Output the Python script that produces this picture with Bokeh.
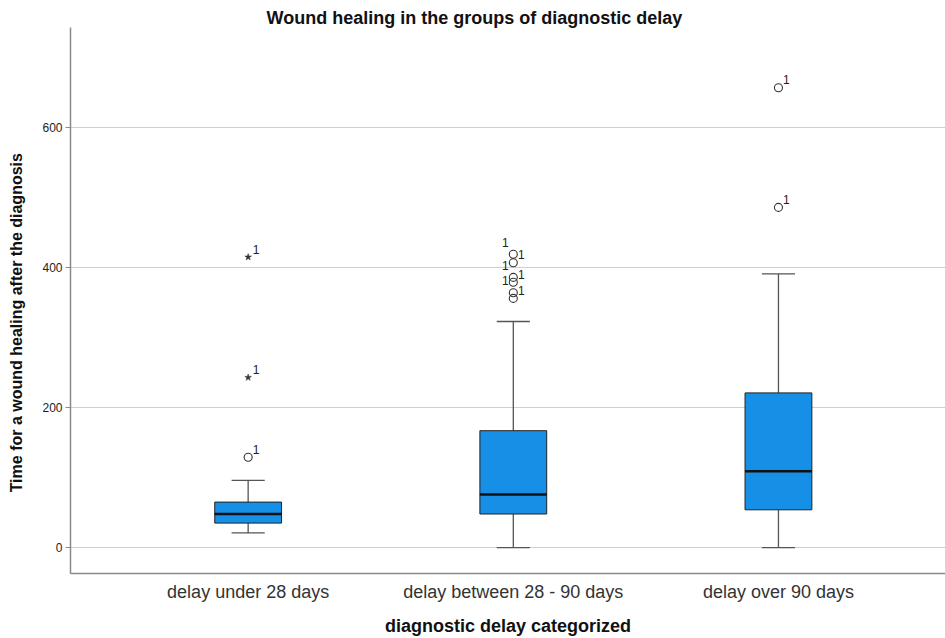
from bokeh.plotting import figure
from bokeh.models import ColumnDataSource, FixedTicker, Title
from bokeh.core.properties import value
from bokeh.embed import file_html
from bokeh.resources import INLINE

# ---- data ----
categories = ["delay under 28 days", "delay between 28 - 90 days", "delay over 90 days"]
group_pos = [1, 2, 3]
q1 = [35, 48, 54]
median = [48, 76, 109]
q3 = [65, 167, 221]
whisker_low = [21, 0, 0]
whisker_high = [96, 323, 391]

circle_group = [1, 2, 2, 2, 2, 2, 2, 3, 3]
circle_value = [129, 419, 407, 386, 379, 364, 356, 486, 657]
circle_label = ["1", "1", "1", "1", "1", "1", "1", "1", "1"]

star_group = [1, 1]
star_value = [243, 415]
star_label = ["1", "1"]

y_ticks = [0, 200, 400, 600]

# ---- styling ----
FONT = "Liberation Sans"
BOX_W = 0.252
CAP_W = 0.125
BOX_FILL = "#1690e6"

p = figure(width=945, height=638, output_backend="svg", toolbar_location=None,
           x_range=(0.33, 3.63), y_range=(-37, 743),
           min_border_left=70, min_border_right=0, min_border_top=27, min_border_bottom=65)
p.outline_line_color = None
p.background_fill_color = "white"
p.border_fill_color = "white"

t = Title(text="Wound healing in the groups of diagnostic delay", align="left",
          text_font=FONT, text_font_size="18px", text_font_style="bold",
          text_color="#111111", standoff=0, offset=196)
p.title = t

box_src = ColumnDataSource(dict(x=group_pos, q1=q1, q3=q3, med=median,
                                lo=whisker_low, hi=whisker_high))

# whiskers
p.segment(x0="x", y0="q3", x1="x", y1="hi", source=box_src, line_color="#555555", line_width=1.3)
p.segment(x0="x", y0="q1", x1="x", y1="lo", source=box_src, line_color="#555555", line_width=1.3)
cap_src = ColumnDataSource(dict(x0=[g - CAP_W / 2 for g in group_pos],
                                x1=[g + CAP_W / 2 for g in group_pos],
                                lo=whisker_low, hi=whisker_high))
p.segment(x0="x0", y0="hi", x1="x1", y1="hi", source=cap_src, line_color="#555555", line_width=1.3)
p.segment(x0="x0", y0="lo", x1="x1", y1="lo", source=cap_src, line_color="#555555", line_width=1.3)

# boxes
p.vbar(x="x", width=BOX_W, bottom="q1", top="q3", source=box_src,
       fill_color=BOX_FILL, line_color="#222222", line_width=1)
med_src = ColumnDataSource(dict(x0=[g - BOX_W / 2 for g in group_pos],
                                x1=[g + BOX_W / 2 for g in group_pos], y=median))
p.segment(x0="x0", y0="y", x1="x1", y1="y", source=med_src, line_color="#111111", line_width=2.5)

# outliers
circ_src = ColumnDataSource(dict(x=circle_group, y=circle_value))
p.scatter(x="x", y="y", source=circ_src, marker="circle", size=8,
          fill_color=None, line_color="#333333", line_width=1.1)
star_src = ColumnDataSource(dict(x=star_group, y=star_value))
p.scatter(x="x", y="y", source=star_src, marker="star", size=7,
          fill_color="#333333", line_color="#333333", line_width=0.5)

# outlier labels (group 2 alternates sides because they are crowded)
lab_x, lab_y, lab_t, lab_dx, lab_dy = [], [], [], [], []
left_side = {(2, 419), (2, 386), (2, 364)}
for g, v, s in list(zip(circle_group, circle_value, circle_label)) + list(zip(star_group, star_value, star_label)):
    lab_x.append(g)
    lab_y.append(v)
    lab_t.append(s)
    if (g, v) in left_side:
        lab_dx.append(-8)
        lab_dy.append(-12)
    else:
        lab_dx.append(8)
        lab_dy.append(-8)
lab_src = ColumnDataSource(dict(x=lab_x, y=lab_y, t=lab_t, dx=lab_dx, dy=lab_dy))
p.text(x="x", y="y", text="t", x_offset="dx", y_offset="dy", source=lab_src,
       text_font=value(FONT), text_font_size="12px", text_color="#222222",
       text_align="center", text_baseline="middle")

# axes
p.xaxis.ticker = FixedTicker(ticks=group_pos)
p.xaxis.major_label_overrides = {g: c for g, c in zip(group_pos, categories)}
p.xaxis.major_tick_line_color = None
p.xaxis.minor_tick_line_color = None
p.xaxis.axis_line_color = "#8a8a8a"
p.xaxis.axis_line_width = 1.5
p.xaxis.major_label_text_font = FONT
p.xaxis.major_label_text_font_size = "18px"
p.xaxis.major_label_text_color = "#333333"
p.xaxis.major_label_standoff = 2
p.xaxis.axis_label = "diagnostic delay categorized"
p.xaxis.axis_label_text_font = FONT
p.xaxis.axis_label_text_font_size = "18px"
p.xaxis.axis_label_text_font_style = "bold"
p.xaxis.axis_label_text_color = "#111111"
p.xaxis.axis_label_standoff = 11

p.yaxis.ticker = FixedTicker(ticks=y_ticks)
p.yaxis.minor_tick_line_color = None
p.yaxis.major_tick_in = 0
p.yaxis.major_tick_out = 5
p.yaxis.major_tick_line_color = "#8a8a8a"
p.yaxis.axis_line_color = "#8a8a8a"
p.yaxis.axis_line_width = 1.5
p.yaxis.major_label_text_font = FONT
p.yaxis.major_label_text_font_size = "12px"
p.yaxis.major_label_text_color = "#222222"
p.yaxis.major_label_standoff = 3
# trailing no-break spaces push the visible title below the frame centre, as in the reference
p.yaxis.axis_label = "Time for a wound healing after the diagnosis" + "\u00a0" * 10
p.yaxis.axis_label_text_font = FONT
p.yaxis.axis_label_text_font_size = "16px"
p.yaxis.axis_label_text_font_style = "bold"
p.yaxis.axis_label_text_color = "#111111"
p.yaxis.axis_label_standoff = 14

p.xgrid.grid_line_color = None
p.ygrid.grid_line_color = "#cfcfcf"
p.ygrid.grid_line_width = 1.2

open("out.html", "w").write(file_html(p, INLINE))
